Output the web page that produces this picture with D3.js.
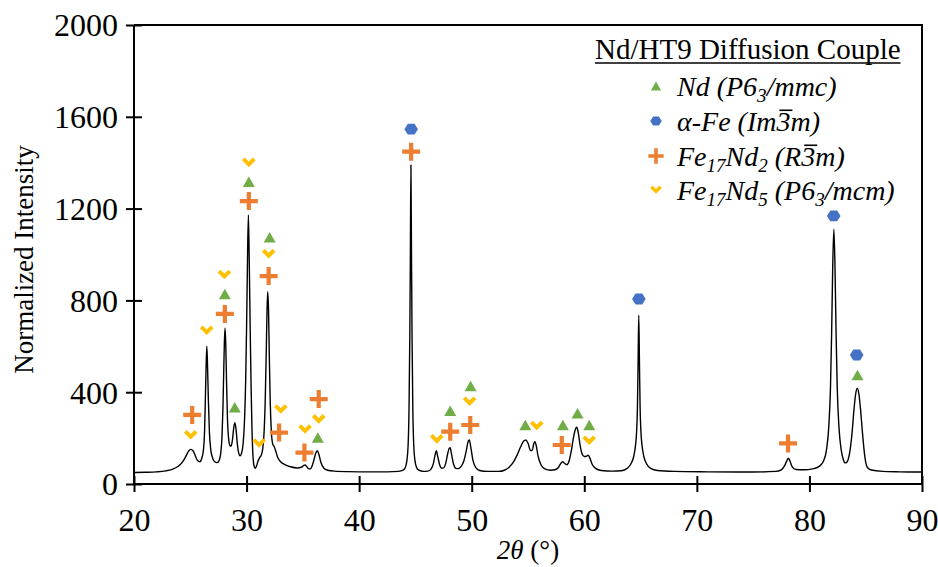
<!DOCTYPE html>
<html>
<head>
<meta charset="utf-8">
<script src="https://cdn.jsdelivr.net/npm/d3@7"></script>
<style>
  body { margin: 0; background: #fff; }
  svg { display: block; }
  text { font-family: "Liberation Serif", "Times New Roman", serif; fill: #000; }
</style>
</head>
<body>
<svg id="chart" width="938" height="567"></svg>
<script>
// XRD pattern of the Nd/HT9 diffusion couple: [2θ (°), normalized intensity]
const pattern = [
  [20.0, 50], [21.0, 51], [22.0, 53], [22.8, 57], [23.4, 64], [23.9, 76], [24.3, 95],
  [24.6, 120], [24.85, 143], [25.05, 151], [25.25, 145], [25.45, 122], [25.65, 102],
  [25.85, 97], [26.02, 112], [26.17, 150], [26.27, 230], [26.34, 370], [26.4, 500],
  [26.47, 600], [26.54, 500], [26.61, 360], [26.7, 225], [26.82, 150], [26.97, 115],
  [27.15, 98], [27.38, 93], [27.58, 105], [27.72, 140], [27.82, 210], [27.9, 330],
  [27.97, 490], [28.03, 620], [28.09, 680], [28.15, 610], [28.22, 450], [28.3, 290],
  [28.4, 200], [28.52, 168], [28.62, 165], [28.74, 190], [28.86, 245], [28.96, 267],
  [29.06, 240], [29.18, 175], [29.3, 135], [29.42, 123], [29.56, 135], [29.7, 180],
  [29.82, 280], [29.92, 450], [30.0, 680], [30.07, 930], [30.16, 1172], [30.25, 930],
  [30.32, 680], [30.4, 430], [30.48, 240], [30.56, 130], [30.66, 80], [30.76, 68],
  [30.88, 78], [31.02, 100], [31.16, 115], [31.3, 125], [31.44, 155], [31.56, 230],
  [31.66, 370], [31.75, 580], [31.82, 760], [31.88, 838], [31.95, 760], [32.02, 560],
  [32.1, 360], [32.2, 230], [32.32, 175], [32.45, 163], [32.58, 145], [32.75, 118],
  [33.0, 98], [33.4, 84], [33.9, 75], [34.5, 70], [34.9, 74], [35.08, 81], [35.2, 83],
  [35.33, 77], [35.5, 67], [35.66, 66], [35.83, 80], [36.0, 108], [36.15, 135],
  [36.28, 145], [36.42, 130], [36.6, 95], [36.85, 70], [37.2, 60], [37.8, 56],
  [39.0, 54], [41.0, 53], [42.5, 53], [43.5, 55], [43.9, 60], [44.1, 72], [44.25, 105],
  [44.35, 170], [44.43, 320], [44.5, 640], [44.55, 1000], [44.6, 1390], [44.65, 1000],
  [44.7, 640], [44.77, 320], [44.85, 170], [44.95, 105], [45.1, 72], [45.3, 60],
  [45.7, 55], [46.1, 56], [46.4, 66], [46.6, 90], [46.75, 128], [46.86, 145],
  [46.98, 120], [47.15, 84], [47.35, 69], [47.5, 70], [47.7, 92], [47.88, 135],
  [48.0, 155], [48.09, 158], [48.2, 132], [48.38, 88], [48.6, 68], [48.8, 67],
  [49.05, 76], [49.3, 100], [49.52, 145], [49.68, 185], [49.79, 192], [49.92, 160],
  [50.1, 105], [50.35, 72], [50.7, 59], [51.4, 55], [52.4, 55], [52.9, 60], [53.3, 72],
  [53.7, 95], [54.05, 128], [54.35, 162], [54.6, 186], [54.82, 192], [55.02, 175],
  [55.22, 146], [55.38, 148], [55.52, 176], [55.62, 184], [55.74, 165], [55.9, 120],
  [56.15, 84], [56.5, 66], [57.0, 60], [57.4, 62], [57.7, 72], [57.92, 90], [58.08, 97],
  [58.25, 90], [58.45, 84], [58.65, 100], [58.85, 145], [59.05, 205], [59.22, 240],
  [59.33, 247], [59.46, 225], [59.62, 172], [59.8, 132], [60.0, 120], [60.18, 121],
  [60.34, 126], [60.48, 115], [60.7, 86], [61.0, 68], [61.5, 59], [62.5, 56],
  [63.3, 58], [63.8, 68], [64.15, 88], [64.4, 122], [64.55, 168], [64.65, 230],
  [64.72, 330], [64.78, 530], [64.84, 736], [64.9, 530], [64.96, 330], [65.03, 230],
  [65.13, 168], [65.28, 122], [65.53, 88], [65.9, 68], [66.5, 59], [68.0, 55],
  [71.0, 53], [75.0, 52], [77.0, 55], [77.5, 62], [77.8, 80], [78.0, 102], [78.13, 112],
  [78.27, 100], [78.47, 75], [78.8, 63], [79.5, 62], [80.3, 66], [80.9, 78],
  [81.25, 100], [81.52, 150], [81.72, 250], [81.87, 420], [81.97, 650], [82.07, 950],
  [82.17, 1110], [82.27, 950], [82.37, 650], [82.47, 420], [82.62, 250], [82.82, 150],
  [83.0, 108], [83.18, 92], [83.3, 94], [83.45, 108], [83.62, 150], [83.8, 230],
  [83.95, 320], [84.1, 390], [84.25, 417], [84.4, 390], [84.55, 320], [84.7, 230],
  [84.85, 150], [85.0, 95], [85.15, 72], [85.5, 61], [86.5, 55], [88.0, 53], [90.0, 52]
];

// Phase reflections: [2θ (°), marker height]
const ndPeaks = [
  [28.07, 828], [28.95, 334], [30.2, 1317], [32.05, 1075], [36.33, 203], [48.09, 319],
  [49.9, 427], [54.76, 257], [58.1, 257], [59.4, 308], [60.44, 257], [84.27, 475]
];
const alphaFePeaks = [[44.62, 1546], [64.85, 806], [82.16, 1168], [84.2, 562]];
const fe17nd2Peaks = [
  [25.17, 301], [28.07, 741], [30.2, 1233], [31.96, 906], [32.89, 224], [35.14, 137],
  [36.41, 370], [44.62, 1448], [48.09, 228], [49.87, 257], [58.0, 170], [78.1, 177]
];
const fe17nd5Peaks = [
  [25.04, 213], [26.46, 668], [28.03, 911], [30.2, 1400], [31.96, 1002], [31.11, 177],
  [33.04, 325], [35.2, 238], [36.41, 282], [46.9, 195], [49.81, 359], [55.78, 253],
  [60.44, 189]
];

const xMajorTicks = [20, 30, 40, 50, 60, 70, 80, 90];
const yMajorTicks = [0, 400, 800, 1200, 1600, 2000];
const xMinorStep = 2;
const yMinorStep = 80;

const colors = { nd: "#70AD47", fe: "#4472C4", fe17nd2: "#ED7D31", fe17nd5: "#FFC000" };

const svg = d3.select("#chart");
const plot = { left: 134, right: 922, top: 25, bottom: 484 };

const x = d3.scaleLinear().domain([20, 90]).range([plot.left, plot.right]);
const y = d3.scaleLinear().domain([0, 2000]).range([plot.bottom, plot.top]);

const tickFont = 32;
const titleFont = 27;

// ---- axes ----
const xMinor = d3.range(20, 90.001, xMinorStep).filter(v => !xMajorTicks.includes(v));
const yMinor = d3.range(0, 2000.001, yMinorStep).filter(v => !yMajorTicks.includes(v));

// frame (top and right)
svg.append("path")
  .attr("d", `M${plot.left},${plot.top}H${plot.right}V${plot.bottom}`)
  .attr("fill", "none").attr("stroke", "#000").attr("stroke-width", 2);

const gx = svg.append("g").attr("transform", `translate(0,${plot.bottom})`);
gx.call(d3.axisBottom(x).tickValues(xMinor).tickSize(-6).tickFormat(""));
gx.call(d3.axisBottom(x).tickValues(xMajorTicks).tickSize(8).tickPadding(0).tickFormat(d3.format("d")));
const gy = svg.append("g").attr("transform", `translate(${plot.left},0)`);
gy.call(d3.axisLeft(y).tickValues(yMinor).tickSize(-6).tickFormat(""));
gy.call(d3.axisLeft(y).tickValues(yMajorTicks).tickSize(8).tickPadding(0).tickFormat(d3.format("d")));

[gx, gy].forEach(g => {
  g.attr("font-family", null).attr("font-size", null);
  g.selectAll(".domain").attr("stroke", "#000").attr("stroke-width", 2);
  g.selectAll(".tick line").attr("stroke", "#000").attr("stroke-width", 2);
  g.selectAll(".tick text").style("font-size", tickFont + "px").attr("fill", "#000");
});
gx.selectAll(".domain").attr("d", `M${plot.left},0H${plot.right}`);
gy.selectAll(".domain").attr("d", `M0,${plot.top}V${plot.bottom}`);
// major ticks cross the axis line
gx.selectAll(".tick line").filter(d => xMajorTicks.includes(d)).attr("y1", -8).attr("y2", 8);
gy.selectAll(".tick line").filter(d => yMajorTicks.includes(d)).attr("x1", 8).attr("x2", -8);
gx.selectAll(".tick text").attr("y", 47).attr("dy", null);
gy.selectAll(".tick text").attr("x", -16).attr("dy", "0.34em");

// axis titles
svg.append("text")
  .attr("transform", `translate(33,${(plot.top + plot.bottom) / 2 + 5}) rotate(-90)`)
  .attr("text-anchor", "middle")
  .style("font-size", titleFont + "px")
  .text("Normalized Intensity");

const xTitle = svg.append("text")
  .attr("x", (plot.left + plot.right) / 2)
  .attr("y", 559)
  .attr("text-anchor", "middle")
  .style("font-size", titleFont + "px");
xTitle.append("tspan").style("font-style", "italic").text("2θ");
xTitle.append("tspan").text(" (°)");

// ---- diffraction pattern ----
const line = d3.line()
  .x(d => x(d[0]))
  .y(d => y(d[1]))
  .curve(d3.curveMonotoneX);

svg.append("path")
  .datum(pattern)
  .attr("d", line)
  .attr("fill", "none")
  .attr("stroke", "#000")
  .attr("stroke-width", 1.4)
  .attr("stroke-linejoin", "round");

// ---- marker shapes ----
const symbols = {
  triangle(g, s) {
    const w = 12 * s, h = 10.5 * s;
    g.append("path")
      .attr("d", `M0,${-h / 2}L${w / 2},${h / 2}L${-w / 2},${h / 2}Z`)
      .attr("fill", colors.nd);
  },
  hexagon(g, s) {
    const r = 6.8 * s;
    const pts = d3.range(6).map(i => {
      const a = Math.PI / 3 * i;
      return [r * Math.cos(a), r * Math.sin(a) * 0.92];
    });
    g.append("path").attr("d", "M" + pts.join("L") + "Z").attr("fill", colors.fe);
  },
  plus(g, s) {
    const a = 9 * s, t = 2.1 * s;
    g.append("path")
      .attr("d", `M${-t},${-a}H${t}V${-t}H${a}V${t}H${t}V${a}H${-t}V${t}H${-a}V${-t}H${-t}Z`)
      .attr("fill", colors.fe17nd2);
  },
  chevron(g, s) {
    g.append("path")
      .attr("d", `M${-5.4 * s},${-3.8 * s}L0,${1.6 * s}L${5.4 * s},${-3.8 * s}`)
      .attr("fill", "none")
      .attr("stroke", colors.fe17nd5)
      .attr("stroke-width", 4 * s)
      .attr("stroke-linejoin", "miter");
  }
};

function drawMarkers(data, shape) {
  const g = svg.append("g");
  data.forEach(d => {
    const m = g.append("g").attr("transform", `translate(${x(d[0])},${y(d[1])})`);
    symbols[shape](m, 1);
  });
}
drawMarkers(fe17nd5Peaks, "chevron");
drawMarkers(fe17nd2Peaks, "plus");
drawMarkers(ndPeaks, "triangle");
drawMarkers(alphaFePeaks, "hexagon");

// ---- legend ----
const legend = svg.append("g");
const title = legend.append("text")
  .attr("x", 595).attr("y", 59)
  .style("font-size", "29px")
  .text("Nd/HT9 Diffusion Couple");
const tb = title.node().getBBox();
legend.append("line")
  .attr("x1", tb.x).attr("x2", tb.x + tb.width)
  .attr("y1", 63).attr("y2", 63)
  .attr("stroke", "#000").attr("stroke-width", 1.5);

const legendItems = [
  { shape: "triangle", y: 96, parts: [["Nd (P6"], ["3", "sub"], ["/mmc)"]] },
  { shape: "hexagon", y: 131, parts: [["α-Fe (Im"], ["3", "bar"], ["m)"]] },
  { shape: "plus", y: 166, parts: [["Fe"], ["17", "sub"], ["Nd"], ["2", "sub"], [" (R"], ["3", "bar"], ["m)"]] },
  { shape: "chevron", y: 200, parts: [["Fe"], ["17", "sub"], ["Nd"], ["5", "sub"], [" (P6"], ["3", "sub"], ["/mcm)"]] }
];
const legendFont = 28;
legendItems.forEach(item => {
  const m = legend.append("g").attr("transform", `translate(656,${item.y - 10})`);
  symbols[item.shape](m, 0.85);
  const t = legend.append("text")
    .attr("x", 677).attr("y", item.y)
    .style("font-size", legendFont + "px")
    .style("font-style", "italic");
  let idx = 0;
  const bars = [];
  let lowered = false;
  item.parts.forEach(([str, kind]) => {
    const ts = t.append("tspan").text(str);
    if (kind === "sub") {
      ts.style("font-size", (legendFont * 0.68) + "px");
      if (!lowered) { ts.attr("dy", 6); lowered = true; }
    } else if (lowered) {
      ts.attr("dy", -6); lowered = false;
    }
    if (kind === "bar") bars.push(idx);
    idx += str.length;
  });
  bars.forEach(i => {
    const e = t.node().getExtentOfChar(i);
    const top = item.y - legendFont * 0.74;
    legend.append("line")
      .attr("x1", e.x + 3).attr("x2", e.x + e.width + 2)
      .attr("y1", top).attr("y2", top)
      .attr("stroke", "#000").attr("stroke-width", 1.6);
  });
});
</script>
</body>
</html>
